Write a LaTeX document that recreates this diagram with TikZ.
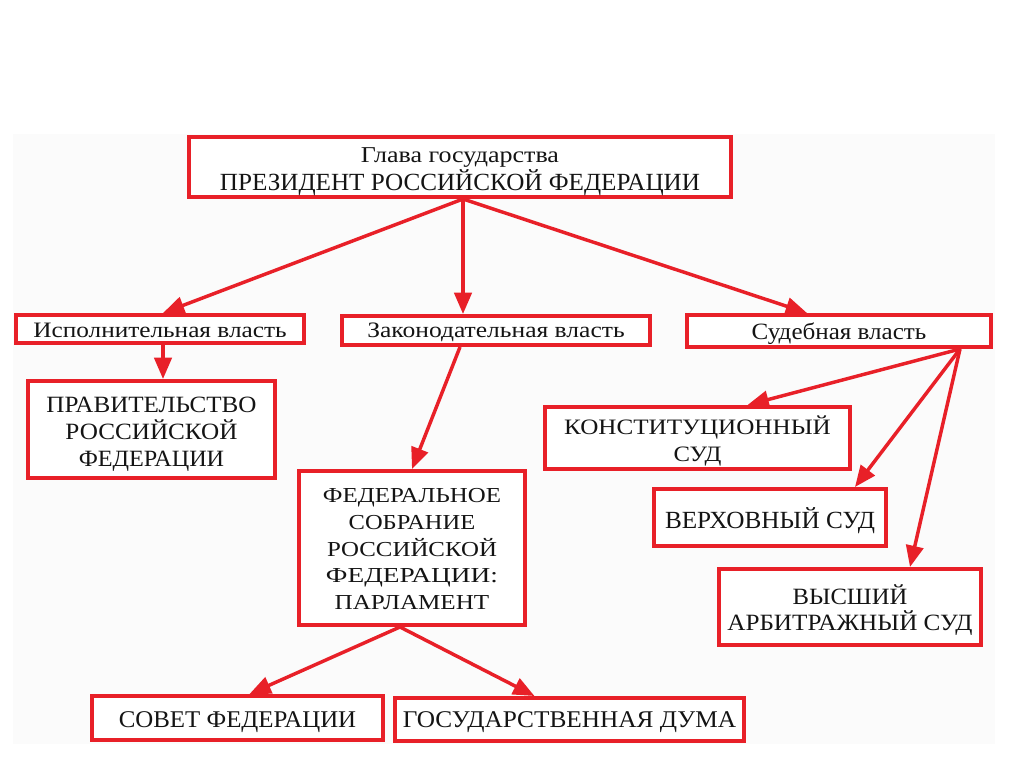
\documentclass[tikz,border=0pt]{standalone}
\usepackage{fontspec}
\setmainfont{Liberation Serif}
\usetikzlibrary{arrows.meta,calc}
\definecolor{boxred}{RGB}{232,32,40}
\definecolor{ink}{RGB}{20,20,20}
\definecolor{panel}{RGB}{251,251,251}
\newcommand{\fw}[2]{\resizebox{#1}{\height}{#2}}
\newcommand{\tpad}[2]{\raisebox{0pt}[\dimexpr\height+#1\relax][\depth]{#2}}
\begin{document}
\begin{tikzpicture}[x=0.75pt,y=-0.75pt,
  box/.style={draw=boxred,line width=3pt,fill=white,inner sep=0pt,align=center,text=ink},
  arr/.style={draw=boxred,line width=2.6pt,-{Triangle[length=16pt,width=13pt]}}]
\useasboundingbox (0,0) rectangle (1024,767);
\fill[white] (0,0) rectangle (1024,767);
\fill[panel] (13,134) rectangle (995,744);

\node[box,minimum width=406.5pt,minimum height=45pt] (pres) at (460,167)
  {{\fontsize{17}{21}\selectfont\tpad{7pt}{\fw{148.5pt}{Глава государства}}}\\
   {\fontsize{18.5}{21}\selectfont\fw{360pt}{ПРЕЗИДЕНТ РОССИЙСКОЙ ФЕДЕРАЦИИ}}};

\node[box,minimum width=216pt,minimum height=21pt,font=\fontsize{16.5}{17}\selectfont] (isp) at (160,329)
  {\tpad{2pt}{\fw{190pt}{Исполнительная власть}}};
\node[box,minimum width=231pt,minimum height=21.75pt,font=\fontsize{16.5}{17}\selectfont] (zak) at (496,330.5)
  {\tpad{3pt}{\fw{193pt}{Законодательная власть}}};
\node[box,minimum width=228pt,minimum height=24pt,font=\fontsize{17.5}{17}\selectfont] (sud) at (839,331)
  {\tpad{4pt}{\fw{131pt}{Судебная власть}}};

\node[box,minimum width=185.25pt,minimum height=72.75pt,font=\fontsize{17.5}{20}\selectfont] (prav) at (151.5,429.5)
  {\tpad{7pt}{\fw{157.5pt}{ПРАВИТЕЛЬСТВО}}\\\fw{129pt}{РОССИЙСКОЙ}\\\fw{109pt}{ФЕДЕРАЦИИ}};

\node[box,minimum width=169.5pt,minimum height=115.5pt,font=\fontsize{16}{20}\selectfont] (fed) at (412,548)
  {\tpad{2pt}{\fw{133.5pt}{ФЕДЕРАЛЬНОЕ}}\\\fw{95pt}{СОБРАНИЕ}\\\fw{127.5pt}{РОССИЙСКОЙ}\\\fw{129pt}{ФЕДЕРАЦИИ:}\\\fw{116pt}{ПАРЛАМЕНТ}};

\node[box,minimum width=228.75pt,minimum height=46.5pt,font=\fontsize{16.5}{20.5}\selectfont] (konst) at (697.5,438)
  {\tpad{4.5pt}{\fw{200pt}{КОНСТИТУЦИОННЫЙ}}\\\fw{36pt}{СУД}};
\node[box,minimum width=174pt,minimum height=42.75pt,font=\fontsize{18.5}{20}\selectfont] (verh) at (770,517.5)
  {\tpad{4.5pt}{\fw{157.5pt}{ВЕРХОВНЫЙ СУД}}};
\node[box,minimum width=196.5pt,minimum height=57pt,font=\fontsize{17.5}{20}\selectfont] (vys) at (850,607)
  {\tpad{4.5pt}{\fw{86pt}{ВЫСШИЙ}}\\\fw{184pt}{АРБИТРАЖНЫЙ СУД}};

\node[box,minimum width=218.25pt,minimum height=33pt,font=\fontsize{18}{20}\selectfont] (sovet) at (237.5,718)
  {\tpad{6pt}{\fw{178pt}{СОВЕТ ФЕДЕРАЦИИ}}};
\node[box,minimum width=261.75pt,minimum height=32.25pt,font=\fontsize{18}{20}\selectfont] (duma) at (569.5,719.5)
  {\tpad{4.5pt}{\fw{250pt}{ГОСУДАРСТВЕННАЯ ДУМА}}};

\coordinate (pa) at ($(pres.south)+(3,0)$);
\draw[arr] (pa) -- ($(isp.north)+(3,0)$);
\draw[arr] (pa) -- (pa |- zak.north);
\draw[arr] (pa) -- ($(sud.north)+(-32,0)$);
\coordinate (ia) at ($(isp.south)+(3,0)$);
\draw[arr] (ia) -- (ia |- prav.north);
\draw[arr] ($(zak.south)+(-36,0)$) -- (fed.north);
\coordinate (sa) at ($(sud.south)+(121,0)$);
\draw[arr] (sa) -- ($(konst.north)+(50,0)$);
\draw[arr] (sa) -- ($(verh.north)+(85,0)$);
\draw[arr] (sa) -- ($(vys.north)+(60,0)$);
\coordinate (fa) at ($(fed.south)+(-12,0)$);
\draw[arr] (fa) -- ($(sovet.north)+(12,0)$);
\draw[arr] (fa) -- ($(duma.north)+(-35,0)$);
\end{tikzpicture}
\end{document}
